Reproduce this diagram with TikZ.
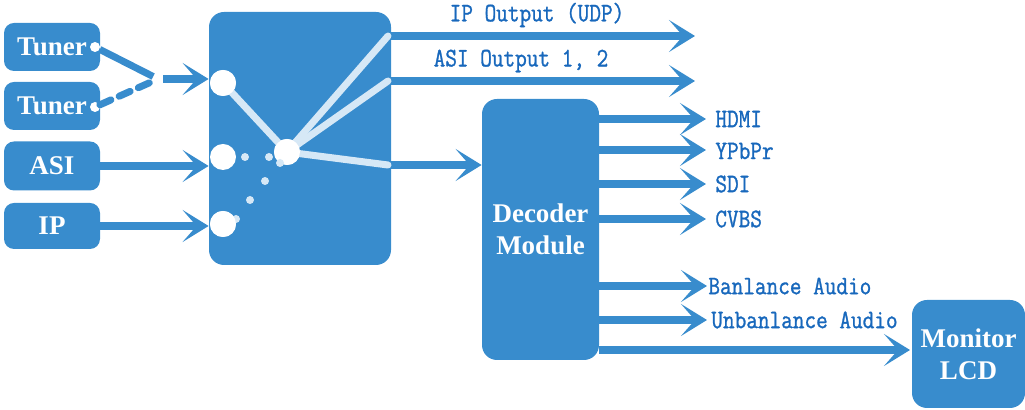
\documentclass[tikz,border=0pt]{standalone}
\usepackage{fontspec}
\setmainfont{Liberation Serif}
\newfontfamily\lblfont{Latin Modern Mono}[FakeBold=1.2]
\usetikzlibrary{arrows.meta}
\definecolor{boxblue}{HTML}{388CCD}
\definecolor{lbl}{HTML}{1868BC}
\definecolor{litec}{HTML}{D6E8F6}
\newcommand{\lbltxt}[1]{\scalebox{1}[1.18]{#1}}
\begin{document}
\begin{tikzpicture}[x=0.5pt,y=-0.5pt,
  box/.style={fill=boxblue, text=white, font=\fontsize{13.5}{16}\selectfont\bfseries, align=center, inner sep=0pt},
  flow/.style={draw=boxblue, line width=4pt, -{Stealth[length=13pt,width=16pt,inset=7pt]}},
  lbltext/.style={text=lbl, font=\fontsize{11.3}{13}\lblfont, inner sep=0pt},
  liteline/.style={draw=litec, line width=3.5pt, line cap=round},
  bigdot/.style={circle, fill=white, minimum size=13pt, inner sep=0pt},
  smalldot/.style={circle, fill=white, minimum size=5pt, inner sep=0pt},
  litedot/.style={circle, fill=litec, minimum size=4pt, inner sep=0pt},
  wire/.style={draw=boxblue, line width=3.5pt}]
\useasboundingbox (0,0) rectangle (1025,410);

% input boxes
\node[box, minimum width=48pt, minimum height=24pt, rounded corners=5pt] (tuner1) at (52,47) {Tuner};
\node[box, minimum width=48pt, minimum height=24pt, rounded corners=5pt] (tuner2) at (52,106) {Tuner};
\node[box, minimum width=48pt, minimum height=24.5pt, rounded corners=5pt] (asi) at (52,166) {ASI};
\node[box, minimum width=48pt, minimum height=23pt, rounded corners=5pt] (ip) at (52,226) {IP};

% switch box
\node[box, minimum width=91pt, minimum height=126.5pt, rounded corners=7.5pt] (sw) at (300,138.5) {};
% decoder
\node[box, minimum width=58.5pt, minimum height=130.5pt, rounded corners=7.5pt] (dec) at (540.5,229.5) {Decoder\\Module};
% monitor
\node[box, minimum width=56.5pt, minimum height=54pt, rounded corners=7.5pt] (mon) at (968.5,354) {Monitor\\LCD};

% tuner dots and wires
\node[smalldot] (d1) at (95,47) {};
\node[smalldot] (d2) at (95,107) {};
\node[smalldot] (j) at (158,79) {};
\draw[wire] (d1) -- (j);
\draw[wire, dash pattern=on 6pt off 4.5pt, line cap=round] (d2) -- (j);

% input arrows
\draw[flow] (j.east) -- (j.east -| sw.west);
\draw[flow] (asi.east) -- (asi.east -| sw.west);
\draw[flow] (ip.east) -- (ip.east -| sw.west);

% switch outputs
\coordinate (e1) at (388,36);
\coordinate (e2) at (388,81);
\coordinate (e3) at (388,165);
\coordinate (t1) at (695,36);
\coordinate (t2) at (695,81);
\draw[flow] (sw.east |- t1) -- (t1);
\draw[flow] (sw.east |- t2) -- (t2);
\draw[flow] (sw.east |- e3) -- (dec.west |- e3);

\node[lbltext] (lip) at (537,15) {\lbltxt{IP Output (UDP)}};
\node[lbltext] (lasi) at (521,61) {\lbltxt{ASI Output 1, 2}};

% switch internals
\node[bigdot] (s1) at (223,83) {};
\node[bigdot] (s2) at (223,157) {};
\node[bigdot] (s3) at (223,224) {};
\node[bigdot] (c) at (287,152) {};
\draw[liteline] (s1.center) -- (c.center);
\draw[liteline] (c.center) -- (e1);
\draw[liteline] (c.center) -- (e2);
\draw[liteline] (c.center) -- (e3);
\node[bigdot] at (s1) {};
\node[bigdot] at (c) {};
\node[litedot] (p1) at (245,157) {};
\node[litedot] (p2) at (269,157) {};
\node[litedot] (p3) at (280,163) {};
\node[litedot] (p4) at (265,181) {};
\node[litedot] (p5) at (250,200) {};
\node[litedot] (p6) at (236,219) {};
\node[bigdot] at (s3) {};

% decoder outputs
\coordinate (h1) at (706,119);
\coordinate (h2) at (706,150);
\coordinate (h3) at (706,184);
\coordinate (h4) at (706,219);
\coordinate (h5) at (707,286);
\coordinate (h6) at (707,320);
\coordinate (h7) at (910,350);
\foreach \h in {h1,h2,h3,h4,h5,h6,h7}{
  \draw[flow] (dec.east |- \h) -- (\h);
}
\node[lbltext, anchor=west] (lhdmi) at (715,119) {\lbltxt{HDMI}};
\node[lbltext, anchor=west] (lypb) at (715,151) {\lbltxt{YPbPr}};
\node[lbltext, anchor=west] (lsdi) at (715,184) {\lbltxt{SDI}};
\node[lbltext, anchor=west] (lcvbs) at (715,219) {\lbltxt{CVBS}};
\node[lbltext, anchor=west] (lbal) at (708,286) {\lbltxt{Banlance Audio}};
\node[lbltext, anchor=west] (lunb) at (711,320) {\lbltxt{Unbanlance Audio}};
\end{tikzpicture}
\end{document}
